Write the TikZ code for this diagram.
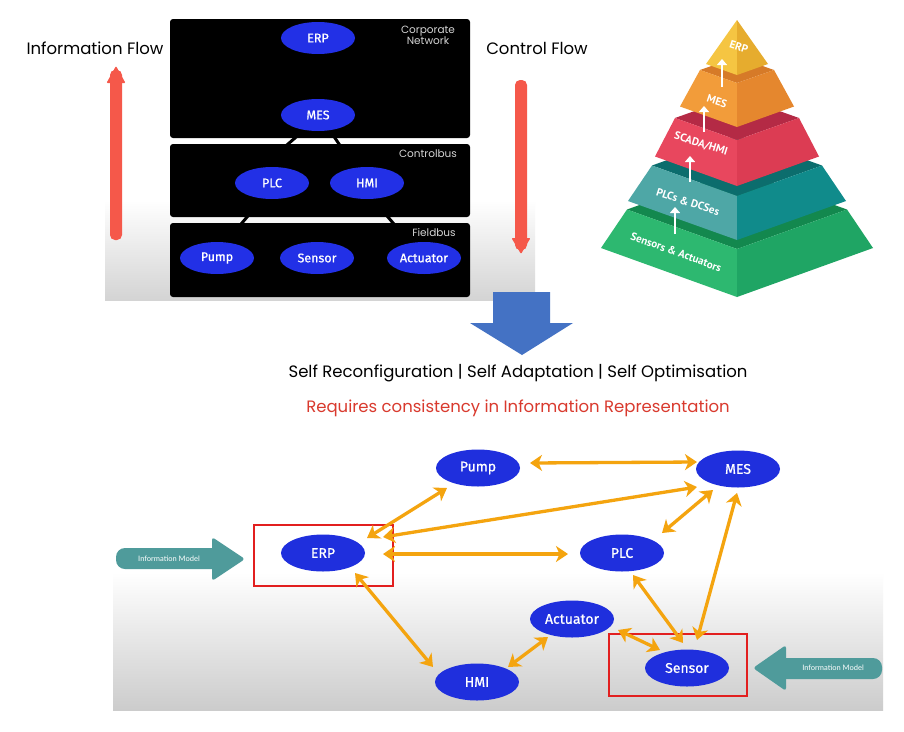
\documentclass[tikz,border=0pt]{standalone}
\usepackage{fontspec}
\setmainfont{Poppins}
\newfontfamily\nodefont[FakeBold=0.8]{Fira Sans}
\newfontfamily\pyrfont{PT Sans}
\newfontfamily\imfont{Lato}
\usetikzlibrary{arrows.meta,calc,shapes.geometric}
\pgfdeclarelayer{lines}
\pgfdeclarelayer{panels}
\pgfsetlayers{lines,panels,main}
\definecolor{pblue}{HTML}{2230E6}
\definecolor{nblue}{HTML}{1F2FDD}
\definecolor{oarr}{HTML}{F4A40F}
\definecolor{flowred}{HTML}{F5584A}
\definecolor{boxred}{HTML}{E21F1F}
\definecolor{reqred}{HTML}{D93A2E}
\definecolor{bigblue}{HTML}{4472C4}
\definecolor{imcol}{HTML}{4F9B9B}
\definecolor{busgray}{HTML}{D4D4D4}
% pyramid colours
\definecolor{yL}{HTML}{F5C542}\definecolor{yR}{HTML}{E6AC2E}
\definecolor{oT}{HTML}{D67A28}\definecolor{oL}{HTML}{F29C3A}\definecolor{oR}{HTML}{E5872E}
\definecolor{rT}{HTML}{B42A45}\definecolor{rL}{HTML}{E8475E}\definecolor{rR}{HTML}{DC3C53}
\definecolor{tT}{HTML}{0C6D6D}\definecolor{tL}{HTML}{4EA7A6}\definecolor{tR}{HTML}{108B8B}
\definecolor{gT}{HTML}{13884E}\definecolor{gL}{HTML}{2DB870}\definecolor{gR}{HTML}{1FA564}
\tikzset{
  tnode/.style={ellipse, fill=pblue, minimum width=74pt, minimum height=32pt, inner sep=0pt,
    text=white, font=\nodefont\fontsize{12.5}{14}\selectfont},
  bnode/.style={ellipse, fill=nblue, minimum width=84pt, minimum height=37pt, inner sep=0pt,
    text=white, font=\nodefont\fontsize{14}{16}\selectfont},
  oarrow/.style={draw=oarr, line width=3.3pt,
    {Stealth[length=12pt,width=16pt,inset=3.5pt]}-{Stealth[length=12pt,width=16pt,inset=3.5pt]}},
  panel/.style={fill=black, rounded corners=3pt},
  buslabel/.style={text=busgray, font=\fontsize{10.5}{12}\selectfont, align=center, inner sep=0pt},
  pyrtxt/.style={text=white, font=\pyrfont\bfseries\fontsize{11}{13}\selectfont, inner sep=0pt},
  warr/.style={draw=white, line width=2.5pt, -{Triangle[length=6pt,width=10pt]}},
  redbox/.style={draw=boxred, line width=2pt},
  flowtxt/.style={font=\fontsize{16.5}{19}\selectfont, inner sep=0pt},
  imtxt/.style={text=white, font=\imfont\fontsize{7.5}{9}\selectfont, inner sep=0pt},
  blackline/.style={draw=black, line width=3pt}
}
\begin{document}
\begin{tikzpicture}[x=1pt,y=-1pt]
\useasboundingbox (0,0) rectangle (904,731);
\begin{pgfonlayer}{lines}
\fill[white] (0,0) rectangle (904,731);
% ---------- top-left architecture background ----------
\shade[top color=white, bottom color=black!17] (105,200) rectangle (535,300);
\end{pgfonlayer}

\node[flowtxt] (infoflow) at (95,48) {Information Flow};
\node[flowtxt] (ctrlflow) at (537,48) {Control Flow};
\fill[flowred, rounded corners=5pt] (110,240) -- (110,70) -- (122,70) -- (122,240) -- cycle;
\fill[flowred, rounded corners=1pt] (106.5,83) -- (116,66) -- (125.5,83) -- cycle;
\fill[flowred, rounded corners=5pt] (515,80) -- (515,250) -- (527,250) -- (527,80) -- cycle;
\fill[flowred, rounded corners=1pt] (511.5,238) -- (521,254) -- (530.5,238) -- cycle;

\begin{pgfonlayer}{panels}
\fill[panel] (170,19) rectangle (470,138);
\fill[panel] (170,144) rectangle (470,217);
\fill[panel] (170,223) rectangle (470,297);
\end{pgfonlayer}

\node[tnode] (tERP) at (318,38) {ERP};
\node[tnode] (tMES) at (318,115) {MES};
\node[tnode] (tPLC) at (272,183) {PLC};
\node[tnode] (tHMI) at (367,183) {HMI};
\node[tnode] (tPump) at (217,258) {Pump};
\node[tnode] (tSensor) at (317,258) {Sensor};
\node[tnode] (tAct) at (424,258) {Actuator};

% bus links (behind panels)
\begin{pgfonlayer}{lines}
\draw[blackline] ($(tMES)+(-20.7,21)$) -- ($(tPLC)+(13.7,-37)$);
\draw[blackline] ($(tMES)+(15.7,21)$) -- ($(tHMI)+(-26.7,-37)$);
\draw[blackline] ($(tPLC)+(-23.3,32)$) -- ($(tPump)+(23.3,-33)$);
\draw[blackline] ($(tHMI)+(19.3,32)$) -- ($(tAct)+(-29.3,-33)$);
\end{pgfonlayer}

\node[buslabel] (corp) at (428,35) {Corporate\\[-1pt]Network};
\node[buslabel] (cbus) at (428,154) {Controlbus};
\node[buslabel] (fbus) at (434,233) {Fieldbus};

% ---------- pyramid ----------
% green
\fill[gT] (627,209.5) -- (737,170) -- (847,209.5) -- (737,249) -- cycle;
\fill[gL] (627,209.5) -- (737,249) -- (737,297) -- (601,248) -- cycle;
\fill[gR] (847,209.5) -- (737,249) -- (737,297) -- (873,248) -- cycle;
% teal
\fill[tT] (652,165.5) -- (737,135) -- (822,165.5) -- (737,196) -- cycle;
\fill[tL] (652,165.5) -- (737,196) -- (737,240) -- (628,201) -- cycle;
\fill[tR] (822,165.5) -- (737,196) -- (737,240) -- (846,201) -- cycle;
% red
\fill[rT] (675,118) -- (737,96) -- (799,118) -- (737,140) -- cycle;
\fill[rL] (675,118) -- (737,140) -- (737,186) -- (655,156.5) -- cycle;
\fill[rR] (799,118) -- (737,140) -- (737,186) -- (819,156.5) -- cycle;
% orange
\fill[oT] (700,70) -- (737,57) -- (774,70) -- (737,83) -- cycle;
\fill[oL] (700,70) -- (737,83) -- (737,127) -- (680,106.5) -- cycle;
\fill[oR] (774,70) -- (737,83) -- (737,127) -- (794,106.5) -- cycle;
% yellow
\fill[yL] (737,20) -- (706,64) -- (737,75) -- cycle;
\fill[yR] (737,20) -- (768,64) -- (737,75) -- cycle;

\node[pyrtxt, rotate=-18] (pERP) at (739,47) {ERP};
\node[pyrtxt, rotate=-18] (pMES) at (717,101) {MES};
\node[pyrtxt, rotate=-17] (pSCADA) at (701,144) {SCADA/HMI};
\node[pyrtxt, rotate=-18] (pPLC) at (688,202) {PLCs \& DCSes};
\node[pyrtxt, rotate=-20] (pSens) at (676,252) {Sensors \& Actuators};

\draw[warr] (722,87) -- (722,59);
\draw[warr] (704,132) -- (704,106);
\draw[warr] (690,182) -- (690,156);
\draw[warr] (675,234) -- (675,207);

% ---------- big blue arrow ----------
\fill[bigblue] (493,292) -- (550,292) -- (550,323) -- (573,323) -- (522,355) -- (470,323) -- (493,323) -- cycle;

\node[flowtxt] (selftxt) at (518,373) {Self Reconfiguration | Self Adaptation | Self Optimisation};
\node[flowtxt, text=reqred] (reqtxt) at (518,408) {Requires consistency in Information Representation};

% ---------- bottom network ----------
\shade[top color=white, bottom color=black!20] (113,572) rectangle (883,710);

\node[bnode] (ERP) at (323,553) {ERP};
\node[bnode] (Pump) at (478,468) {Pump};
\node[bnode] (MES) at (738,469) {MES};
\node[bnode] (PLC) at (622,553) {PLC};
\node[bnode] (Act) at (572,619) {Actuator};
\node[bnode] (HMI) at (477,682) {HMI};
\node[bnode] (Sensor) at (687,668) {Sensor};

\draw[redbox] (254,525) rectangle (393,586);
\draw[redbox] (609,634) rectangle (747,696);

\draw[oarrow] ($(Pump)+(52,-5)$) -- ($(MES)+(-41,-7)$);
\draw[oarrow] ($(ERP)+(44,-15)$) -- ($(Pump)+(-31,20)$);
\draw[oarrow] ($(ERP)+(60,-16)$) -- ($(MES)+(-41,18)$);
\draw[oarrow] ($(ERP)+(60,1)$) -- ($(PLC)+(-54,1)$);
\draw[oarrow] ($(ERP)+(32,20)$) -- ($(HMI)+(-44,-15)$);
\draw[oarrow] ($(HMI)+(31,-15)$) -- ($(Act)+(-24,18)$);
\draw[oarrow] ($(PLC)+(40,-20)$) -- ($(MES)+(-25,21)$);
\draw[oarrow] ($(PLC)+(11,22)$) -- ($(Sensor)+(-4,-25)$);
\draw[oarrow] ($(Sensor)+(10,-28)$) -- ($(MES)+(-1,24)$);
\draw[oarrow] ($(Act)+(46,11)$) -- ($(Sensor)+(-27,-18)$);

% information model arrows
\fill[imcol, rounded corners=9pt] (116,548) rectangle (222,569);
\fill[imcol, rounded corners=3pt] (212,537) -- (245,559) -- (212,581) -- cycle;
\node[imtxt] (imleft) at (169,559) {Information Model};
\fill[imcol, rounded corners=9pt] (776,658) rectangle (882,679);
\fill[imcol, rounded corners=3pt] (786,645) -- (753,668) -- (786,691) -- cycle;
\node[imtxt] (imright) at (833,668) {Information Model};
\end{tikzpicture}
\end{document}
